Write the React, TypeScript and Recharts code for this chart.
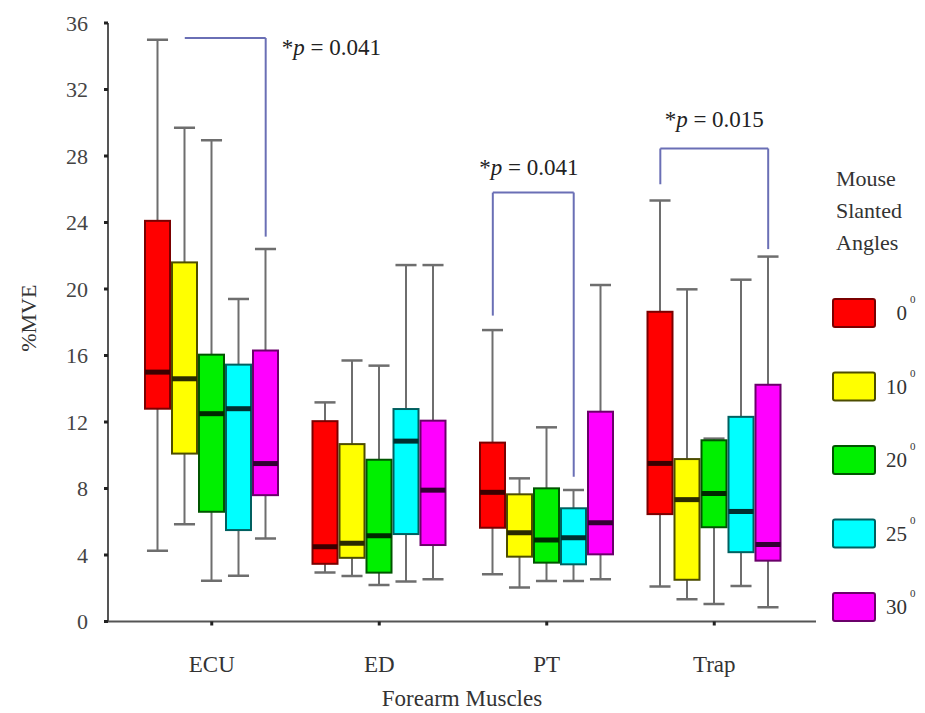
import React from 'react';
import { ComposedChart, Bar, XAxis, YAxis, ReferenceLine, ReferenceDot, Legend } from 'recharts';

const categories = ['ECU', 'ED', 'PT', 'Trap'];
const angleNames = ['0', '10', '20', '25', '30'];

// [min, q1, median, q3, max] per muscle (ECU, ED, PT, Trap)
const angle0 = [
  [4.25, 12.8, 15.0, 24.1, 35.0],
  [2.95, 3.47, 4.5, 12.05, 13.18],
  [2.84, 5.64, 7.77, 10.76, 17.53],
  [2.1, 6.46, 9.51, 18.63, 25.33],
];
const angle10 = [
  [5.85, 10.1, 14.6, 21.6, 29.7],
  [2.74, 3.83, 4.7, 10.67, 15.7],
  [2.04, 3.9, 5.34, 7.65, 8.61],
  [1.34, 2.51, 7.33, 9.77, 19.98],
];
const angle20 = [
  [2.45, 6.6, 12.5, 16.05, 28.95],
  [2.2, 2.94, 5.16, 9.73, 15.39],
  [2.44, 3.54, 4.9, 8.01, 11.68],
  [1.06, 5.67, 7.7, 10.9, 11.0],
];
const angle25 = [
  [2.75, 5.5, 12.8, 15.45, 19.4],
  [2.4, 5.26, 10.85, 12.78, 21.44],
  [2.44, 3.44, 5.04, 6.81, 7.91],
  [2.14, 4.17, 6.62, 12.31, 20.56],
];
const angle30 = [
  [5.0, 7.6, 9.5, 16.3, 22.4],
  [2.54, 4.6, 7.9, 12.08, 21.44],
  [2.54, 4.04, 5.94, 12.62, 20.24],
  [0.86, 3.66, 4.63, 14.24, 21.95],
];

const yTicks = [0, 4, 8, 12, 16, 20, 24, 28, 32, 36];

// significance brackets: category index, series from/to, top value, drop ends
const brackets = [
  { cat: 0, from: 1, to: 4, top: 35.1, fromEnd: null as number | null, toEnd: 23.15 },
  { cat: 2, from: 0, to: 3, top: 25.8, fromEnd: 18.4 as number | null, toEnd: 8.7 },
  { cat: 3, from: 0, to: 4, top: 28.45, fromEnd: 26.3 as number | null, toEnd: 22.4 },
];
const pLabels = [
  { text: '0.041', x: 0.418, y: 34.57, anchor: 'start' },
  { text: '0.041', x: 1.893, y: 27.34, anchor: 'middle' },
  { text: '0.015', x: 3.0, y: 30.2, anchor: 'middle' },
];

const series = [angle0, angle10, angle20, angle25, angle30];
const fills = ['#ff0000', '#ffff00', '#00f000', '#00ffff', '#ff00ff'];
const borders = ['#7a0000', '#4d4d00', '#005500', '#006060', '#6a006a'];
const medians = ['#3a0000', '#2a2a00', '#002800', '#003030', '#330033'];

const data = categories.map((cat, i) => {
  const row: any = { cat, idx: i, stats: series.map((s) => s[i]) };
  series.forEach((s, k) => {
    row['r' + k] = [s[i][0], s[i][4]];
  });
  return row;
});

const FONT = '"Liberation Serif", "Times New Roman", serif';
const boxStep = 0.161; // one box width in category units
const off = (k: number) => (k - 2) * boxStep;

function makeBoxShape(k: number) {
  return (props: any) => {
    const { x, y, width, height, payload } = props;
    const st = payload && payload.stats ? payload.stats[k] : null;
    if (!st) return null;
    const [mn, q1, md, q3, mx] = st;
    const top = Math.min(y, y + height);
    const h = Math.abs(height);
    const ppu = mx > mn ? h / (mx - mn) : 0;
    const py = (v: number) => top + (mx - v) * ppu;
    const cx = x + width / 2;
    const capW = width * 0.78;
    const wc = '#6e6e6e';
    return (
      <g>
        <line x1={cx} x2={cx} y1={py(mx)} y2={py(mn)} stroke={wc} strokeWidth={2} />
        <line x1={cx - capW / 2} x2={cx + capW / 2} y1={py(mx)} y2={py(mx)} stroke={wc} strokeWidth={2.5} />
        <line x1={cx - capW / 2} x2={cx + capW / 2} y1={py(mn)} y2={py(mn)} stroke={wc} strokeWidth={2.5} />
        <rect x={x + 1} y={py(q3)} width={width - 2} height={py(q1) - py(q3)} fill={fills[k]} stroke={borders[k]} strokeWidth={2} />
        <line x1={x + 1} x2={x + width - 1} y1={py(md)} y2={py(md)} stroke={medians[k]} strokeWidth={5} />
      </g>
    );
  };
}

const renderXTitle = (props: any) => {
  const vb = props.viewBox || { x: 0, y: 0, width: 0, height: 0 };
  return (
    <text x={vb.x + vb.width / 2} y={vb.y + vb.height - 7} textAnchor="middle" fontFamily={FONT} fontSize={23} fill="#333">
      Forearm Muscles
    </text>
  );
};

const renderYTitle = (props: any) => {
  const vb = props.viewBox || { x: 0, y: 0, width: 0, height: 0 };
  const cx = vb.x + 20;
  const cy = vb.y + vb.height / 2 - 4;
  return (
    <text x={cx} y={cy} transform={`rotate(-90 ${cx} ${cy})`} textAnchor="middle" dominantBaseline="central" fontFamily={FONT} fontSize={22} fill="#333">
      %MVE
    </text>
  );
};

const makePLabel = (text: string, anchor: string) => (props: any) => {
  const vb = props.viewBox || { x: 0, y: 0, width: 0, height: 0 };
  return (
    <text x={vb.x + vb.width / 2} y={vb.y + vb.height / 2} dy="0.35em" textAnchor={anchor as any} fontFamily={FONT} fontSize={23} fill="#222">
      <tspan>*</tspan>
      <tspan fontStyle="italic">p</tspan>
      <tspan>{' = ' + text}</tspan>
    </text>
  );
};

const legendTitle = ['Mouse', 'Slanted', 'Angles'];

const renderLegend = (props: any) => {
  const payload = props.payload || [];
  return (
    <svg width={100} height={705} style={{ display: 'block' }}>
      {legendTitle.map((t, i) => (
        <text key={t} x={20} y={178 + i * 32} fontFamily={FONT} fontSize={22} fill="#333">
          {t}
        </text>
      ))}
      {angleNames.map((name, i) => {
        const entry = payload[i];
        const color = entry && entry.color ? entry.color : fills[i];
        const label = entry && entry.value != null ? entry.value : name;
        const cy = 305 + i * 73.5;
        return (
          <g key={name}>
            <rect x={17} y={cy - 14} width={42} height={28} fill={color} stroke={borders[i]} strokeWidth={2} rx={2} />
            <text x={91} y={cy} dy="0.35em" textAnchor="end" fontFamily={FONT} fontSize={21} fill="#333">
              {label}
            </text>
            <text x={94} y={cy - 10} fontFamily={FONT} fontSize={11} fill="#333">
              0
            </text>
          </g>
        );
      })}
    </svg>
  );
};

export default function App() {
  return (
    <div style={{ position: 'absolute', left: 8, top: 8, width: 917, height: 705, background: '#fff' }}>
      <ComposedChart
        width={917}
        height={705}
        data={data}
        margin={{ top: 15, right: 9, bottom: 0, left: 0 }}
        barGap={0}
      >
        <XAxis
          xAxisId="cat"
          dataKey="cat"
          height={91.5}
          padding={{ left: 20, right: 18 }}
          tickSize={4}
          tickMargin={30}
          tickLine={{ stroke: '#222', strokeWidth: 3 }}
          axisLine={{ stroke: '#555', strokeWidth: 2 }}
          tick={{ fill: '#333', fontSize: 23, fontFamily: FONT }}
          label={renderXTitle}
        />
        <XAxis
          xAxisId="num"
          type="number"
          dataKey="idx"
          domain={[0, 3]}
          allowDataOverflow
          padding={{ left: 103.75, right: 101.75 }}
          hide
        />
        <XAxis
          xAxisId="top"
          orientation="top"
          dataKey="cat"
          height={0}
          tick={false}
          tickLine={false}
          axisLine={{ stroke: '#333', strokeWidth: 2 }}
        />
        <YAxis
          yAxisId="y"
          width={100}
          domain={[0, 36]}
          ticks={yTicks}
          allowDataOverflow
          tickSize={4}
          tickMargin={16}
          tickLine={{ stroke: '#222', strokeWidth: 3 }}
          axisLine={{ stroke: '#555', strokeWidth: 2 }}
          tick={{ fill: '#444', fontSize: 22, fontFamily: FONT }}
          label={renderYTitle}
        />
        <YAxis
          yAxisId="r"
          orientation="right"
          width={0}
          domain={[0, 36]}
          tick={false}
          tickLine={false}
          axisLine={{ stroke: '#888', strokeWidth: 1.5 }}
        />
        <Legend
          layout="vertical"
          align="right"
          verticalAlign="top"
          content={renderLegend}
          wrapperStyle={{ top: 0, right: 9, width: 100, height: 705 }}
        />
        {series.map((_, k) => (
          <Bar
            key={k}
            xAxisId="cat"
            yAxisId="y"
            dataKey={'r' + k}
            name={angleNames[k]}
            fill={fills[k]}
            barSize={27}
            shape={makeBoxShape(k)}
            isAnimationActive={false}
          />
        ))}
        {brackets.map((b, i) => {
          const xa = b.cat + off(b.from);
          const xb = b.cat + off(b.to);
          const lines = [
            <ReferenceLine key={'h' + i} xAxisId="num" yAxisId="y" segment={[{ x: xa, y: b.top }, { x: xb, y: b.top }]} stroke="#6a6fb5" strokeWidth={2} ifOverflow="visible" />,
            <ReferenceLine key={'r' + i} xAxisId="num" yAxisId="y" segment={[{ x: xb, y: b.top }, { x: xb, y: b.toEnd }]} stroke="#6a6fb5" strokeWidth={2} ifOverflow="visible" />,
          ];
          if (b.fromEnd != null) {
            lines.push(
              <ReferenceLine key={'l' + i} xAxisId="num" yAxisId="y" segment={[{ x: xa, y: b.top }, { x: xa, y: b.fromEnd }]} stroke="#6a6fb5" strokeWidth={2} ifOverflow="visible" />
            );
          }
          return lines;
        })}
        {pLabels.map((p, i) => (
          <ReferenceDot
            key={'p' + i}
            xAxisId="num"
            yAxisId="y"
            x={p.x}
            y={p.y}
            r={1}
            fill="none"
            stroke="none"
            ifOverflow="visible"
            label={makePLabel(p.text, p.anchor)}
          />
        ))}
      </ComposedChart>
    </div>
  );
}
